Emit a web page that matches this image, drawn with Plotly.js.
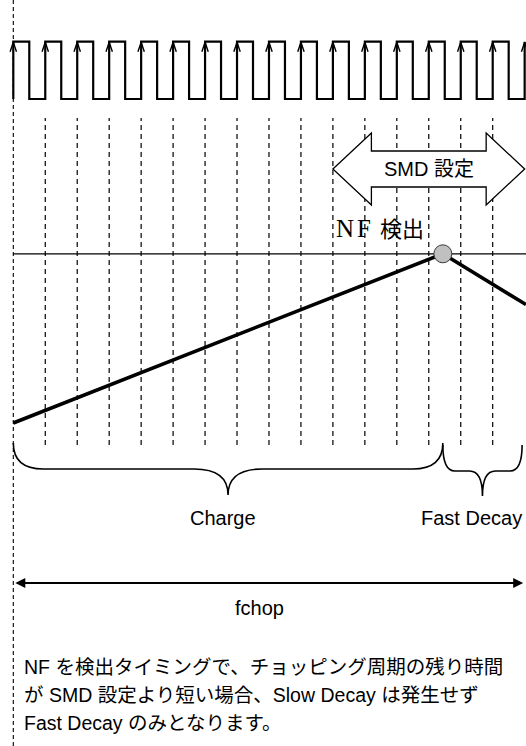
<!DOCTYPE html>
<html><head><meta charset="utf-8">
<script src="https://cdn.plot.ly/plotly-3.0.1.min.js"></script>
<style>html,body{margin:0;padding:0;background:#fff;}#chart{width:526px;height:746px;}</style>
</head><body><div id="chart"></div>
<script>
// ---------------- data (time in chopping-clock periods) ----------------
const clockRise = [0, 1, 2, 3, 4, 5, 6, 7, 8, 9, 10, 11, 12, 13, 14, 15, 16];
const clockFall = [0.5, 1.5, 2.5, 3.5, 4.5, 5.5, 6.5, 7.5, 8.5, 9.5, 10.5, 11.5, 12.5, 13.5, 14.5, 15.5];
const clockLow = 0;
const clockHigh = 1;
const gridTimes = [1, 2, 3, 4, 5, 6, 7, 8, 9, 10, 11, 12, 13, 14, 15];
const currentT = [0, 13.44, 16.04];
const currentV = [0, 1, 0.70];
const nfT = [13.44];
const nfV = [1];
const nfThreshold = 1;
const smdSpan = [10, 16];
const chargeSpan = [0, 13.44];
const fastDecaySpan = [13.44, 15.92];
const fchopSpan = [0, 16];
const labelSMD = 'SMD 設定';
const labelNF = ['NF', '検出'];
const labelCharge = 'Charge';
const labelFast = 'Fast Decay';
const labelFchop = 'fchop';
const noteLines = [
  'NF を検出タイミングで、チョッピング周期の残り時間',
  'が SMD 設定より短い場合、Slow Decay は発生せず',
  'Fast Decay のみとなります。'
];

// ---------------- geometry helpers ----------------
const W = 526, H = 746;
const X0PX = 13.3, PERIOD_PX = 31.96;
const xRange = [-X0PX / PERIOD_PX, (W - X0PX) / PERIOD_PX];
function yr(zeroPx, onePx) { const k = zeroPx - onePx; return [-(H - zeroPx) / k, zeroPx / k]; }
const pp = px => 1 - px / H;
const dx = px => px / PERIOD_PX;
const CLK_PX = 99 - 41.7;
const FONT = 'Liberation Sans, Arial, Noto Sans CJK JP, sans-serif';

// clock waveform
const cx = [], cy = [];
for (let i = 0; i < clockFall.length; i++) {
  cx.push(clockRise[i], clockRise[i], clockFall[i], clockFall[i]);
  cy.push(clockLow, clockHigh, clockHigh, clockLow);
}
cx.push(clockRise[clockRise.length - 1], clockRise[clockRise.length - 1]);
cy.push(clockLow, clockHigh);

// arrow chevrons on rising edges
const ax = [], ay = [];
clockRise.forEach(r => {
  ax.push(r - dx(3.2), r, r + dx(3.2), null);
  ay.push(clockHigh - 10 / CLK_PX, clockHigh - 0.5 / CLK_PX, clockHigh - 10 / CLK_PX, null);
});

const traces = [
  {x: cx, y: cy, yaxis: 'y2', mode: 'lines', line: {color: '#000', width: 2.2}, hoverinfo: 'skip'},
  {x: ax, y: ay, yaxis: 'y2', mode: 'lines', line: {color: '#000', width: 1.4}, hoverinfo: 'skip'},
  {x: currentT, y: currentV, mode: 'lines', line: {color: '#000', width: 3.6}, hoverinfo: 'skip'},
  {x: nfT, y: nfV, mode: 'markers', cliponaxis: false,
   marker: {size: 18, color: '#c0c0c0', line: {color: '#3a3a3a', width: 1}}, hoverinfo: 'skip'}
];

function brace(span, yTop, yMid, yTip, rEnd, rMid) {
  const x0 = span[0], x1 = span[1], xm = (x0 + x1) / 2, re = dx(rEnd), rm = dx(rMid);
  const yt = pp(yTop), ym = pp(yMid), yp = pp(yTip);
  return `M${x0},${yt} Q${x0},${ym} ${x0 + re},${ym} L${xm - rm},${ym} Q${xm},${ym} ${xm},${yp} ` +
         `Q${xm},${ym} ${xm + rm},${ym} L${x1 - re},${ym} Q${x1},${ym} ${x1},${yt}`;
}
function dblArrow(span) {
  const x0 = span[0], x1 = span[1], h = dx(38.5);
  const yc = pp(169), s1 = pp(151), s2 = pp(187), h1 = pp(133), h2 = pp(205);
  return `M${x0},${yc} L${x0 + h},${h1} L${x0 + h},${s1} L${x1 - h},${s1} L${x1 - h},${h1} L${x1},${yc} ` +
         `L${x1 - h},${h2} L${x1 - h},${s2} L${x0 + h},${s2} L${x0 + h},${h2} Z`;
}

const shapes = [
  {type: 'line', layer: 'below', xref: 'x', yref: 'paper', x0: 0, x1: 0, y0: 0, y1: 1,
   line: {color: '#000', width: 1.1, dash: '4px,3px'}},
  ...gridTimes.map(t => ({type: 'line', layer: 'below', xref: 'x', yref: 'paper', x0: t, x1: t,
   y0: pp(445), y1: pp(118), line: {color: '#000', width: 1.2, dash: '5px,4px'}})),
  {type: 'line', layer: 'below', xref: 'x', yref: 'y', x0: 0, x1: xRange[1], y0: nfThreshold, y1: nfThreshold,
   line: {color: '#000', width: 1.2}},
  {type: 'path', xref: 'x', yref: 'paper', path: dblArrow(smdSpan), fillcolor: '#fff',
   line: {color: '#000', width: 1.3}},
  {type: 'path', xref: 'x', yref: 'paper', path: brace(chargeSpan, 443, 469, 495, 30, 34),
   line: {color: '#000', width: 1.6}},
  {type: 'path', xref: 'x', yref: 'paper', path: brace(fastDecaySpan, 445, 471, 496, 12, 13),
   line: {color: '#000', width: 1.6}}
];

const tf = {family: FONT, size: 20, color: '#000'};
const annotations = [
  {xref: 'x', yref: 'paper', x: (smdSpan[0] + smdSpan[1]) / 2, y: pp(169), text: labelSMD,
   showarrow: false, xanchor: 'center', yanchor: 'middle', font: tf},
  {xref: 'x', yref: 'paper', x: nfT[0] - dx(17), y: pp(228),
   text: '<span style="font-family:Liberation Serif;font-size:25px;letter-spacing:3px">' + labelNF[0] + '</span> ' + labelNF[1],
   showarrow: false, xanchor: 'right', yanchor: 'middle', font: {family: FONT, size: 22, color: '#000'}},
  {xref: 'x', yref: 'paper', x: (chargeSpan[0] + chargeSpan[1]) / 2, xshift: -5, y: pp(518), text: labelCharge,
   showarrow: false, xanchor: 'center', yanchor: 'middle', font: tf},
  {xref: 'paper', yref: 'paper', x: 524 / W, y: pp(518), text: labelFast,
   showarrow: false, xanchor: 'right', yanchor: 'middle', font: tf},
  {xref: 'x', yref: 'paper', x: (fchopSpan[0] + fchopSpan[1]) / 2, xshift: -9, y: pp(608), text: labelFchop,
   showarrow: false, xanchor: 'center', yanchor: 'middle', font: tf},
  {xref: 'x', yref: 'paper', x: fchopSpan[1] - dx(1.5), y: pp(583), axref: 'x', ax: fchopSpan[0] + dx(0.5),
   ayref: 'pixel', ay: 0, text: '', showarrow: true, arrowside: 'end+start', arrowhead: 2, startarrowhead: 2,
   arrowwidth: 2, arrowsize: 1, startarrowsize: 1, arrowcolor: '#000'},
  ...noteLines.map((s, i) => ({xref: 'paper', yref: 'paper', x: 22 / W, y: pp(667 + 28 * i), text: s,
   showarrow: false, xanchor: 'left', yanchor: 'middle', font: {family: FONT, size: 19.5, color: '#000'}}))
];

const layout = {
  width: W, height: H, margin: {l: 0, r: 0, t: 0, b: 0, pad: 0},
  paper_bgcolor: '#fff', plot_bgcolor: '#fff', showlegend: false,
  xaxis: {range: xRange, visible: false, fixedrange: true},
  yaxis: {range: yr(423, 253.8), visible: false, fixedrange: true},
  yaxis2: {range: yr(99, 41.7), overlaying: 'y', visible: false, fixedrange: true},
  shapes: shapes, annotations: annotations
};
Plotly.newPlot('chart', traces, layout, {staticPlot: true, displayModeBar: false});
</script></body></html>
